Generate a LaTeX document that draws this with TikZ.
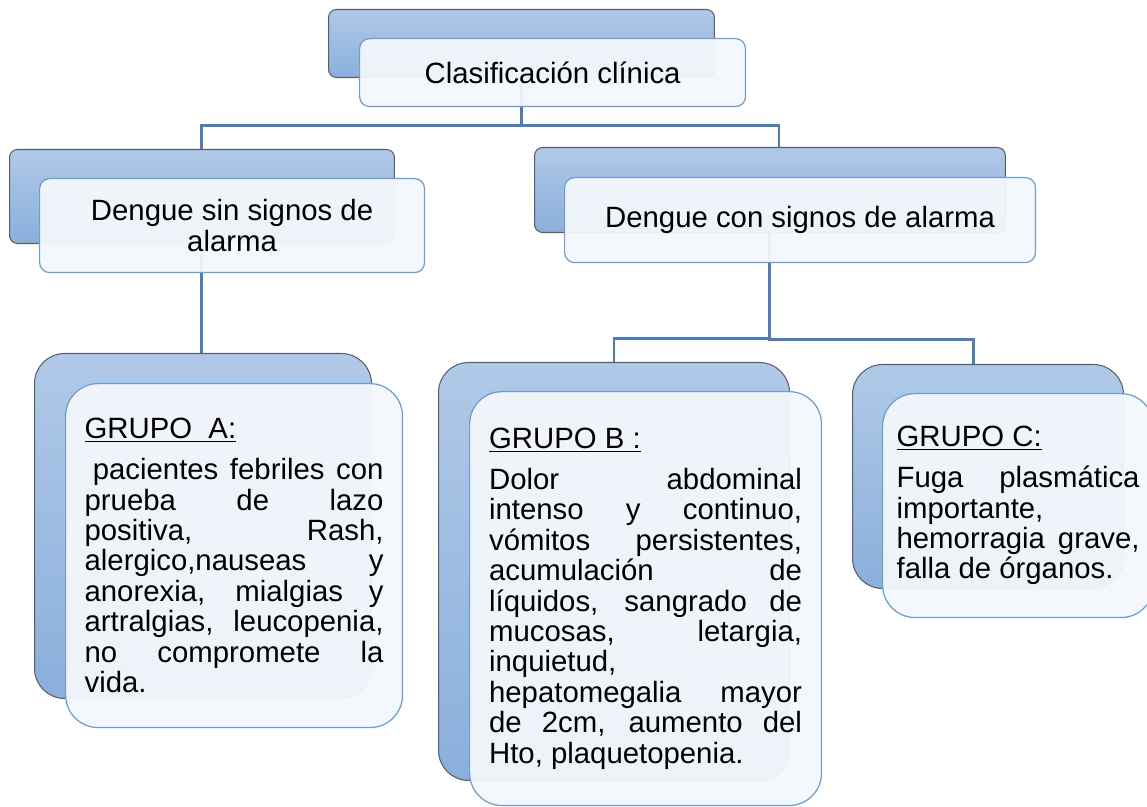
\documentclass[tikz,border=0pt]{standalone}
\usepackage{fontspec}
\setmainfont{Liberation Sans}
\usepackage{tikz}
\definecolor{dnbluetop}{HTML}{B0C9E7}
\definecolor{dnbluebot}{HTML}{8AAFDC}
\definecolor{dngray}{HTML}{5A5F66}
\definecolor{dnedge}{HTML}{6A9FD6}
\definecolor{dnfront}{HTML}{F4F7FC}
\definecolor{dnline}{HTML}{4A7EBB}
\newcommand\dnfont{\fontsize{16.7}{17.3}\selectfont\parindent=0pt\tolerance=10000\hbadness=10000}

\begin{document}
\begin{tikzpicture}[
  x=0.02cm, y=-0.02cm,
  back/.style={
    rectangle,
    rounded corners=#1,
    draw=dngray,
    line width=0.6pt,
    top color=dnbluetop,
    bottom color=dnbluebot,
    anchor=north west,
    inner sep=0pt
  },
  back/.default=0.16cm,
  front/.style={
    rectangle,
    rounded corners=#1,
    draw=dnedge,
    line width=0.7pt,
    fill=dnfront,
    fill opacity=0.95,
    text opacity=1,
    anchor=north west,
    inner sep=0pt,
    font=\dnfont
  },
  front/.default=0.2cm,
  link/.style={draw=dnline, line width=1.7pt}
]
  \fill[white] (0,0) rectangle (1147,807);
  \useasboundingbox (0,0) rectangle (1147,807);

  % back layer
  \node[back, minimum width=7.72cm, minimum height=1.36cm] (tback) at (328,9) {};
  \node[back, minimum width=7.70cm, minimum height=1.88cm] (lback) at (9,149) {};
  \node[back, minimum width=9.42cm, minimum height=1.70cm] (rback) at (534,147) {};
  \node[back=0.6cm, minimum width=6.74cm, minimum height=6.90cm] (aback) at (34,353) {};
  \node[back=0.6cm, minimum width=7.02cm, minimum height=8.36cm] (bback) at (438,362) {};
  \node[back=0.6cm, minimum width=5.42cm, minimum height=4.48cm] (cback) at (852,364) {};

  \coordinate (rin) at (779,147);
  \coordinate (cin) at (973,364);

  \draw[link] (tback.south) -- ++(0,47) -| (lback.north);
  \draw[link] (tback.south) -- ++(0,47) -| (rin);
  \draw[link] (lback.south) -- (lback.south |- aback.north);
  \draw[link] (rback.south) -- ++(0,105) -| (bback.north);
  \draw[link] (rback.south) -- ++(0,106) -| (cin);

  % front layer
  \node[front, minimum width=7.72cm, minimum height=1.36cm, align=center] (tfront) at (359,38)
    {Clasificación clínica};
  \node[front, minimum width=7.70cm, minimum height=1.88cm, align=center] (lfront) at (39,178)
    {Dengue sin signos de\\alarma};
  \node[front, minimum width=9.42cm, minimum height=1.70cm, align=center] (rfront) at (564,177)
    {Dengue con signos de alarma};

  \node[front=0.65cm, minimum width=6.74cm, minimum height=6.88cm, text width=5.98cm, align=justify] (afront) at (65,383)
    {\underline{GRUPO\ \ A:}\\[6pt]
     \hspace*{0.28em}pacientes febriles con\linebreak
     prueba de lazo\linebreak
     positiva, Rash,\linebreak
     alergico,nauseas y\linebreak
     anorexia, mialgias y\linebreak
     artralgias, leucopenia,\linebreak
     no compromete la\linebreak
     vida.};
  \node[front=0.65cm, minimum width=7.04cm, minimum height=8.28cm, text width=6.26cm, align=justify] (bfront) at (469,391)
    {\underline{GRUPO B :}\\[6pt]
     Dolor abdominal\linebreak
     intenso y continuo,\linebreak
     vómitos persistentes,\linebreak
     acumulación de\linebreak
     líquidos, sangrado de\linebreak
     mucosas, letargia,\linebreak
     inquietud,\linebreak
     hepatomegalia mayor\linebreak
     de 2cm, aumento del\linebreak
     Hto, plaquetopenia.};
  \node[front=0.65cm, minimum width=5.42cm, minimum height=4.48cm, text width=4.86cm, align=justify] (cfront) at (882,393)
    {\underline{GRUPO C:}\\[6pt]
     Fuga plasmática\linebreak
     importante,\linebreak
     hemorragia grave,\linebreak
     falla de órganos.};
\end{tikzpicture}
\end{document}
